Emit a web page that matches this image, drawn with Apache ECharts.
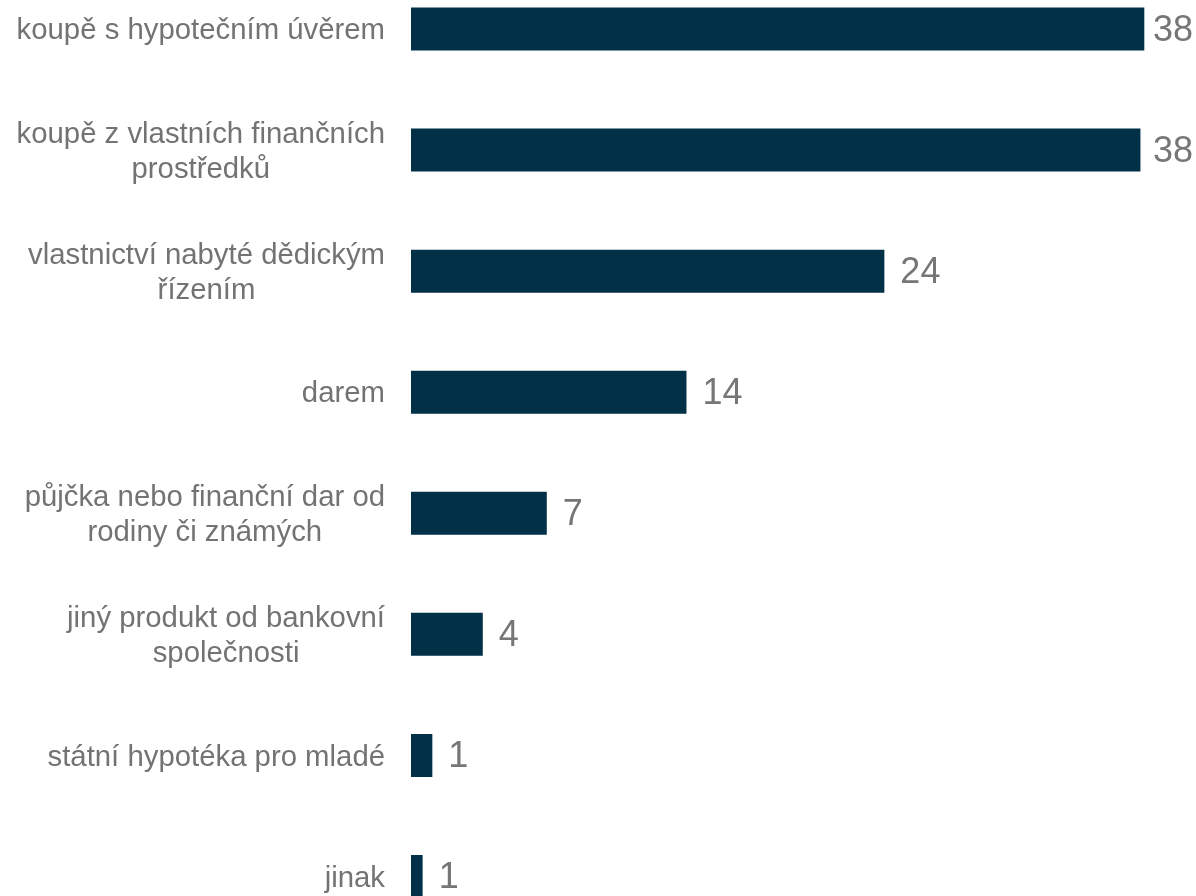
<!DOCTYPE html>
<html>
<head>
<meta charset="utf-8">
<title>Způsob nabytí bydlení</title>
<script src="https://cdn.jsdelivr.net/npm/echarts@6/dist/echarts.min.js"></script>
<style>
  html, body { margin: 0; padding: 0; background: #ffffff; }
  #chart { width: 1196px; height: 896px; }
</style>
</head>
<body>
<div id="chart"></div>
<script>
// Categories, top to bottom (line breaks as they wrap on the axis)
const categories = [
  'koupě s hypotečním úvěrem',
  'koupě z vlastních finančních\nprostředků',
  'vlastnictví nabyté dědickým\nřízením',
  'darem',
  'půjčka nebo finanční dar od\nrodiny či známých',
  'jiný produkt od bankovní\nspolečnosti',
  'státní hypotéka pro mladé',
  'jinak'
];

// Shares in percent
const values = [37.8, 37.6, 24.4, 14.2, 7.0, 3.7, 1.1, 0.6];

const textGray = '#737373';
const valueGray = '#767676';
const barColor = '#013047';
const fontFamily = 'Liberation Sans, Arial, sans-serif';
const labelFontSize = 36;
const labelGap = 16;

const chart = echarts.init(document.getElementById('chart'), null, { renderer: 'canvas' });

function buildOption(distances) {
  return {
    backgroundColor: '#ffffff',
    animation: false,
    grid: {
      left: 411,
      width: 776,
      top: 29,
      height: 849,
      containLabel: false
    },
    xAxis: {
      type: 'value',
      min: 0,
      max: 40,
      show: false,
      splitLine: { show: false }
    },
    yAxis: {
      type: 'category',
      data: categories,
      inverse: true,
      boundaryGap: false,
      axisLine: { show: false },
      axisTick: { show: false },
      splitLine: { show: false },
      axisLabel: {
        margin: 26,
        color: textGray,
        fontFamily: fontFamily,
        fontSize: 29.33,
        lineHeight: 35,
        align: 'right',
        padding: [4, 0, 0, 0],
        // each wrapped line is centred within the label block
        formatter: function (name) {
          return name.split('\n').map(function (line) {
            return '{c|' + line + '}';
          }).join('\n');
        },
        rich: {
          c: {
            align: 'center',
            color: textGray,
            fontFamily: fontFamily,
            fontSize: 29.33,
            lineHeight: 35
          }
        }
      }
    },
    series: [{
      type: 'bar',
      data: values.map(function (v, i) {
        return { value: v, label: { distance: distances[i] } };
      }),
      barWidth: 43,
      itemStyle: { color: barColor },
      label: {
        show: true,
        position: 'right',
        distance: labelGap,
        offset: [0, 2],
        color: valueGray,
        fontFamily: fontFamily,
        fontSize: labelFontSize,
        formatter: function (p) { return Math.round(p.value); }
      }
    }]
  };
}

chart.setOption(buildOption(values.map(function () { return labelGap; })));

// Pull value labels that would run past the right edge back inside the canvas
const rightLimit = chart.getWidth() - 3;
const distances = values.map(function (v, i) {
  const barEnd = chart.convertToPixel({ gridIndex: 0 }, [v, i])[0];
  const textW = echarts.format.getTextRect
    ? echarts.format.getTextRect(String(Math.round(v)), labelFontSize + 'px ' + fontFamily).width
    : String(Math.round(v)).length * labelFontSize * 0.556;
  return Math.max(4, Math.min(labelGap, rightLimit - textW - barEnd));
});
chart.setOption(buildOption(distances));
</script>
</body>
</html>
